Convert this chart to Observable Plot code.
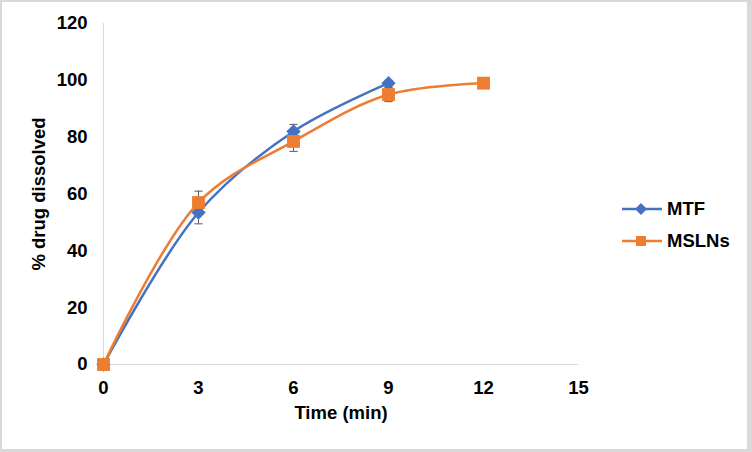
<!DOCTYPE html>
<html>
<head>
<meta charset="utf-8">
<script src="https://cdn.jsdelivr.net/npm/d3@7"></script>
<script src="https://cdn.jsdelivr.net/npm/@observablehq/plot@0.6"></script>
<style>
  body { margin: 0; background: #fff; }
  #wrap { position: relative; width: 752px; height: 452px; }
  #wrap::after { content: ""; position: absolute; inset: 0; box-sizing: border-box; border-style: solid; border-color: #d9d9d9; border-width: 2px 5px 3px 2px; pointer-events: none; }
  .legend { position: absolute; left: 620px; font: bold 18.5px "Liberation Sans", Arial, sans-serif; color: #000; display: flex; align-items: center; }
  .legend svg { margin-right: 3px; }
</style>
</head>
<body>
<div id="wrap"></div>
<script>
const times = [0, 3, 6, 9, 12];
const seriesNames = ["MTF", "MSLNs"];
const colors = ["#4472C4", "#ED7D31"];
const mtfValues = [0, 53.5, 82, 99];
const mtfErrors = [0, 4, 2.5, 1];
const mslnValues = [0, 57, 78.5, 95, 99];
const mslnErrors = [0, 4, 3.5, 2.5, 0];
const xTicks = [0, 3, 6, 9, 12, 15];
const yTicks = [0, 20, 40, 60, 80, 100, 120];

const mtf = mtfValues.map((v, i) => ({series: "MTF", t: times[i], v, e: mtfErrors[i]}));
const msln = mslnValues.map((v, i) => ({series: "MSLNs", t: times[i], v, e: mslnErrors[i]}));
const errs = [...mtf, ...msln].filter(d => d.e > 0);
const capHalf = 0.13;

const chart = Plot.plot({
  width: 752,
  height: 452,
  marginLeft: 103,
  marginRight: 174,
  marginTop: 23,
  marginBottom: 88,
  style: {fontFamily: "'Liberation Sans', Arial, sans-serif", fontSize: "18.5px", fontWeight: "bold", color: "#000", background: "#fff"},
  x: {domain: [0, 15], ticks: xTicks},
  y: {domain: [0, 120], ticks: yTicks},
  marks: [
    Plot.ruleY([0], {stroke: "#d9d9d9", strokeWidth: 1}),
    Plot.ruleX([0], {stroke: "#d9d9d9", strokeWidth: 1}),
    Plot.axisY({ticks: yTicks, tickSize: 0, tickPadding: 16, label: "% drug dissolved", labelArrow: false, labelAnchor: "center", labelOffset: 72, fontSize: 18.5, fontWeight: "bold"}),
    Plot.axisX({ticks: xTicks, tickSize: 0, tickPadding: 16, label: "Time (min)", labelArrow: false, labelAnchor: "center", labelOffset: 54, fontSize: 18.5, fontWeight: "bold"}),
    Plot.ruleX(errs, {x: "t", y1: d => d.v - d.e, y2: d => d.v + d.e, stroke: "#595959", strokeWidth: 1}),
    Plot.link(errs, {x1: d => d.t - capHalf, x2: d => d.t + capHalf, y1: d => d.v + d.e, y2: d => d.v + d.e, stroke: "#595959", strokeWidth: 1}),
    Plot.link(errs, {x1: d => d.t - capHalf, x2: d => d.t + capHalf, y1: d => d.v - d.e, y2: d => d.v - d.e, stroke: "#595959", strokeWidth: 1}),
    Plot.line(mtf, {x: "t", y: "v", stroke: colors[0], strokeWidth: 2.5, curve: "catmull-rom"}),
    Plot.line(msln, {x: "t", y: "v", stroke: colors[1], strokeWidth: 2.5, curve: "catmull-rom"}),
    Plot.dot(mtf, {x: "t", y: "v", symbol: "diamond2", r: 5.5, fill: colors[0], stroke: colors[0]}),
    Plot.dot(msln, {x: "t", y: "v", symbol: "square2", r: 8.2, fill: colors[1], stroke: "none"})
  ]
});
const wrap = document.getElementById("wrap");
wrap.appendChild(chart);

const legendY = [209, 241];
seriesNames.forEach((name, i) => {
  const div = document.createElement("div");
  div.className = "legend";
  div.style.top = (legendY[i] - 11) + "px";
  const marker = i === 0
    ? `<path d="M21,5 L27,11 L21,17 L15,11 Z" fill="${colors[0]}"/>`
    : `<rect x="16" y="6" width="10" height="10" fill="${colors[1]}"/>`;
  div.innerHTML = `<svg width="44" height="22"><line x1="2" x2="42" y1="11" y2="11" stroke="${colors[i]}" stroke-width="2.5"/>${marker}</svg><span>${name}</span>`;
  wrap.appendChild(div);
});
</script>
</body>
</html>
